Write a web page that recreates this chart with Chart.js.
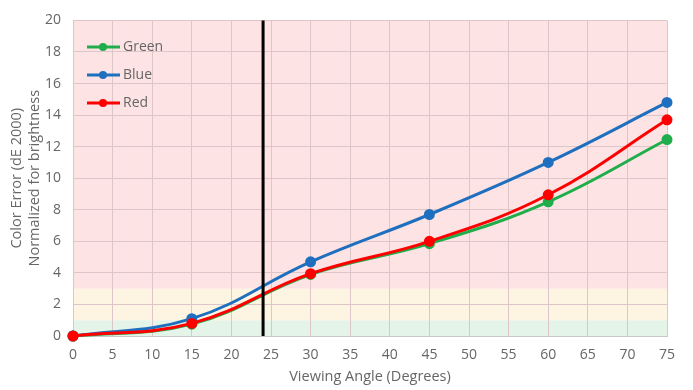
<!DOCTYPE html>
<html>
<head>
<meta charset="utf-8">
<script src="https://cdn.jsdelivr.net/npm/chart.js@4.4.1/dist/chart.umd.min.js"></script>
<style>
  html, body { margin: 0; padding: 0; background: #fff; }
  #wrap { width: 693px; height: 390px; position: relative; }
</style>
</head>
<body>
<div id="wrap"><canvas id="errorChart" width="693" height="390"></canvas></div>
<script>
// Viewing angle data
const angles = [0, 15, 30, 45, 60, 75];
const greenVals = [0, 0.75, 3.9, 5.85, 8.5, 12.45];
const blueVals = [0, 1.1, 4.7, 7.7, 11.0, 14.8];
const redVals = [0, 0.8, 3.95, 6.0, 8.95, 13.7];

// background bands: [from, to, colour]
const bands = [
  [0, 1, '#e4f4e8'],
  [1, 3, '#fdf4e1'],
  [3, 20, '#fde3e3']
];
const markerAngle = 24;

const font = "'Open Sans', 'Liberation Sans', sans-serif";
const textGray = '#666666';

const toPoints = vals => angles.map((a, i) => ({ x: a, y: vals[i] }));

// Draw bands behind grid
const bandPlugin = {
  id: 'bands',
  beforeDraw(chart) {
    const { ctx, chartArea, scales } = chart;
    ctx.save();
    bands.forEach(([from, to, col]) => {
      const yTop = scales.y.getPixelForValue(to);
      const yBot = scales.y.getPixelForValue(from);
      ctx.fillStyle = col;
      ctx.fillRect(chartArea.left, yTop, chartArea.right - chartArea.left, yBot - yTop);
    });
    ctx.restore();
  }
};

// Black marker line + legend inside plot
const overlayPlugin = {
  id: 'overlay',
  afterDatasetsDraw(chart) {
    const { ctx, chartArea, scales } = chart;
    const x = scales.x.getPixelForValue(markerAngle);
    ctx.save();
    ctx.strokeStyle = '#000';
    ctx.lineWidth = 3;
    ctx.beginPath();
    ctx.moveTo(x, chartArea.top);
    ctx.lineTo(x, chartArea.bottom);
    ctx.stroke();

    // legend
    chart.data.datasets.forEach((ds, i) => {
      const ly = 47 + i * 28;
      ctx.strokeStyle = ds.borderColor;
      ctx.lineWidth = 3;
      ctx.beginPath();
      ctx.moveTo(87, ly);
      ctx.lineTo(120, ly);
      ctx.stroke();
      ctx.fillStyle = ds.borderColor;
      ctx.beginPath();
      ctx.arc(103, ly, 4, 0, Math.PI * 2);
      ctx.fill();
      ctx.fillStyle = textGray;
      ctx.font = '14px ' + font;
      ctx.textBaseline = 'middle';
      ctx.fillText(ds.label, 123, ly);
    });
    ctx.restore();
  }
};

const mkSet = (label, vals, color, order) => ({
  label: label,
  data: toPoints(vals),
  borderColor: color,
  backgroundColor: color,
  borderWidth: 3,
  pointRadius: 4,
  pointHoverRadius: 4,
  tension: 0.4,
  fill: false,
  clip: false,
  order: order
});

new Chart(document.getElementById('errorChart'), {
  type: 'line',
  data: {
    datasets: [
      mkSet('Green', greenVals, '#1fae4b', 2),
      mkSet('Blue', blueVals, '#1f6fbf', 1),
      mkSet('Red', redVals, '#ff0000', 0)
    ]
  },
  options: {
    responsive: false,
    animation: false,
    devicePixelRatio: 1,
    layout: { padding: { top: 18, right: 26, left: 0, bottom: 0 } },
    plugins: {
      legend: { display: false },
      tooltip: { enabled: false }
    },
    scales: {
      x: {
        type: 'linear',
        min: 0,
        max: 75,
        ticks: { stepSize: 5, maxRotation: 0, color: textGray, font: { family: font, size: 14 }, padding: 11 },
        grid: { color: '#dcc6ca', drawTicks: false },
        border: { color: '#c8c8c8' },
        title: { display: true, text: 'Viewing Angle (Degrees)', color: textGray, font: { family: font, size: 14.5 }, padding: { top: 0 } },
        afterFit(scale) { scale.height = 54; }
      },
      y: {
        min: 0,
        max: 20,
        ticks: { stepSize: 2, color: textGray, font: { family: font, size: 14 }, padding: 12 },
        grid: { color: '#dcc6ca', drawTicks: false },
        border: { display: false },
        title: { display: true, text: ['Color Error (dE 2000)', 'Normalized for brightness'], color: textGray, font: { family: font, size: 14.5, lineHeight: 1.25 }, padding: { top: 8, bottom: 0 } },
        afterFit(scale) { scale.width = 73; }
      }
    }
  },
  plugins: [bandPlugin, overlayPlugin]
});
</script>
</body>
</html>
